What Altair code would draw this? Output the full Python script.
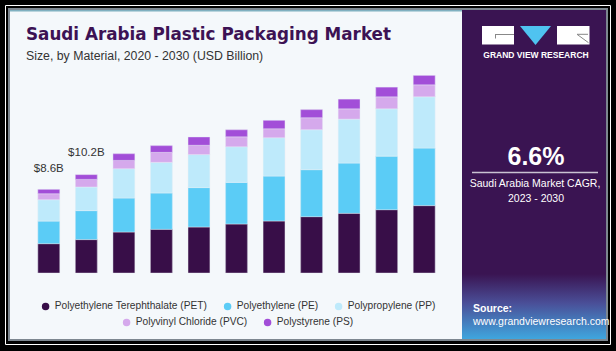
import altair as alt
import pandas as pd

# ---------------- data ----------------
years = [str(y) for y in range(2020, 2031)]
materials = [
    "Polyethylene Terephthalate (PET)",
    "Polyethylene (PE)",
    "Polypropylene (PP)",
    "Polyvinyl Chloride (PVC)",
    "Polystyrene (PS)",
]
pet = [3.03, 3.45, 4.23, 4.51, 4.75, 5.06, 5.37, 5.82, 6.16, 6.54, 6.96]
pe = [2.33, 2.99, 3.51, 3.75, 4.07, 4.30, 4.64, 4.85, 5.19, 5.53, 5.94]
pp = [2.21, 2.44, 3.03, 3.17, 3.41, 3.68, 3.96, 4.13, 4.54, 4.89, 5.30]
pvc = [0.62, 0.79, 0.86, 1.03, 0.96, 1.03, 0.93, 1.24, 1.07, 1.24, 1.24]
ps = [0.44, 0.49, 0.69, 0.69, 0.86, 0.72, 0.86, 0.83, 0.99, 0.99, 0.96]
colors = ["#380E48", "#5BCCF6", "#BEEAFB", "#D5A9EC", "#A24ED8"]

label_years = ["2020", "2021"]
label_values = [8.6, 10.2]
label_texts = ["$8.6B", "$10.2B"]

title_text = "Saudi Arabia Plastic Packaging Market"
subtitle_text = "Size, by Material, 2020 - 2030 (USD Billion)"
cagr_text = "6.6%"
cagr_label = ["Saudi Arabia Market CAGR,", "2023 - 2030"]
brand_text = "GRAND VIEW RESEARCH"
source_texts = ["Source:", "www.grandviewresearch.com"]

series = [pet, pe, pp, pvc, ps]
rows = []
for i, m in enumerate(materials):
    for y, v in zip(years, series[i]):
        rows.append({"Year": y, "Material": m, "Value": v, "idx": i})
df = pd.DataFrame(rows)
labels_df = pd.DataFrame({"Year": label_years, "Value": label_values, "Text": label_texts})

# ---------------- geometry ----------------
OX, OY, W, H = 30, 60, 413, 213
TOTAL_W, TOTAL_H = 616, 351
one = pd.DataFrame({"k": [0]})


def rect(x1, y1, x2, y2, **kw):
    return alt.Chart(one).mark_rect(**kw).encode(
        x=alt.value(x1 - OX), x2=alt.value(x2 - OX),
        y=alt.value(y1 - OY), y2=alt.value(y2 - OY))


def rule(x1, y1, x2, y2, **kw):
    return alt.Chart(one).mark_rule(**kw).encode(
        x=alt.value(x1 - OX), x2=alt.value(x2 - OX),
        y=alt.value(y1 - OY), y2=alt.value(y2 - OY))


def txt(s, x, y, **kw):
    return alt.Chart(one).mark_text(text=s, **kw).encode(
        x=alt.value(x - OX), y=alt.value(y - OY))


FONT = "Liberation Sans"
PANEL = "#3A1452"

decor = [
    rect(5.5, 5.5, 610.5, 344.5, fill="black", stroke="white", strokeWidth=1),
    rect(8, 8, 608, 341, fill="#7d8790"),
    rect(10, 10, 606, 339, fill="#F4F8FB"),
    rect(10, 10, 462, 11.5, fill="#7fb0c0"),
    rect(462, 10, 606, 339, fill=PANEL),
    rect(462, 274, 606, 339, color=alt.LinearGradient(
        gradient="linear", x1=0, x2=0, y1=0, y2=1,
        stops=[alt.GradientStop(offset=0, color=PANEL),
               alt.GradientStop(offset=0.45, color="#4A4F98"),
               alt.GradientStop(offset=1, color="#3FA6DE")])),
    # logo
    rect(482, 26, 514, 44.5, fill="white"),
    rect(557, 26, 589.5, 44.5, fill="white"),
    rule(495, 34.5, 514, 34.5, color="#888888", strokeWidth=1),
    rule(495.5, 34.5, 495.5, 38.5, color="#888888", strokeWidth=1),
    rule(577, 34.3, 588, 34.3, color="#888888", strokeWidth=1),
    rule(577, 34.3, 588.5, 42.7, color="#888888", strokeWidth=1),
    alt.Chart(one).mark_point(
        shape="M-1,-0.613 L1,-0.613 L0,0.613 Z", filled=True,
        fill="#4FC3F0", size=961, opacity=1, strokeWidth=0).encode(
        x=alt.value(535.5 - OX), y=alt.value(35.5 - OY)),
    txt(brand_text, 536, 54.5, font=FONT, fontSize=8.5, fontWeight="bold",
        color="white", align="center", baseline="middle"),
    # CAGR
    txt(cagr_text, 536, 164.5, font=FONT, fontSize=25, fontWeight="bold",
        color="white", align="center", baseline="alphabetic"),
    rule(472, 172.5, 598, 172.5, color="#c9c2d2", strokeWidth=1.5),
    txt(cagr_label[0], 535, 184, font=FONT, fontSize=10.5, color="white",
        align="center", baseline="middle"),
    txt(cagr_label[1], 536, 198.5, font=FONT, fontSize=10.5, color="white",
        align="center", baseline="middle"),
    txt(source_texts[0], 473, 309, font=FONT, fontSize=10.5, fontWeight="bold",
        color="white", align="left", baseline="middle"),
    txt(source_texts[1], 473, 322, font=FONT, fontSize=10.5, color="white",
        align="left", baseline="middle"),
    # titles
    txt(title_text, 26, 40, font="DejaVu Sans", fontSize=16.8, fontWeight="bold",
        color="#3C1254", align="left", baseline="alphabetic"),
    txt(subtitle_text, 26, 59.5, font=FONT, fontSize=12.3, color="#333333",
        align="left", baseline="alphabetic"),
]

x_enc = alt.X("Year:N", sort=years,
              scale=alt.Scale(paddingInner=0.42, paddingOuter=0.21),
              axis=alt.Axis(title=None, labelAngle=0, domain=False, ticks=False,
                            labelFont=FONT, labelFontSize=11.5, labelColor="#444444",
                            labelPadding=4))
y_enc = alt.Y("Value:Q", stack="zero",
              scale=alt.Scale(domain=[0, 22], nice=False, zero=True), axis=None)


def legend(vals, lx, ly, cols):
    return alt.Legend(values=vals, orient="none", legendX=lx - OX, legendY=ly - OY,
                      direction="horizontal", columns=cols, title=None,
                      symbolType="circle", symbolSize=56, symbolStrokeWidth=0,
                      labelFont=FONT, labelFontSize=10.2, labelColor="#333333",
                      labelOffset=4, columnPadding=15, padding=0)


bars1 = alt.Chart(df).mark_bar(stroke="#eef3f8", strokeWidth=0.4).encode(
    x=x_enc, y=y_enc,
    color=alt.Color("Material:N", scale=alt.Scale(domain=materials, range=colors),
                    legend=legend(materials[:3], 40.5, 301, 3)),
    order=alt.Order("idx:Q", sort="ascending"),
)
bars2 = alt.Chart(df).mark_bar(stroke="#eef3f8", strokeWidth=0.4).encode(
    x=x_enc, y=y_enc,
    color=alt.Color("Material:N", scale=alt.Scale(domain=materials, range=colors),
                    legend=legend(materials[3:], 121.5, 317, 2)),
    order=alt.Order("idx:Q", sort="ascending"),
)
labels = alt.Chart(labels_df).mark_text(
    baseline="bottom", dy=-16, font=FONT, fontSize=11.5, color="#333333").encode(
    x=alt.X("Year:N", sort=years), y=alt.Y("Value:Q"), text="Text:N")

chart = alt.layer(*decor, bars1, bars2, labels).resolve_scale(
    color="independent"
).properties(
    width=W, height=H, autosize="none", background="black",
    padding={"left": OX, "top": OY, "right": TOTAL_W - OX - W,
             "bottom": TOTAL_H - OY - H},
).configure_view(stroke=None)

chart.save("out.html", embed_options={"renderer": "svg", "actions": False})
